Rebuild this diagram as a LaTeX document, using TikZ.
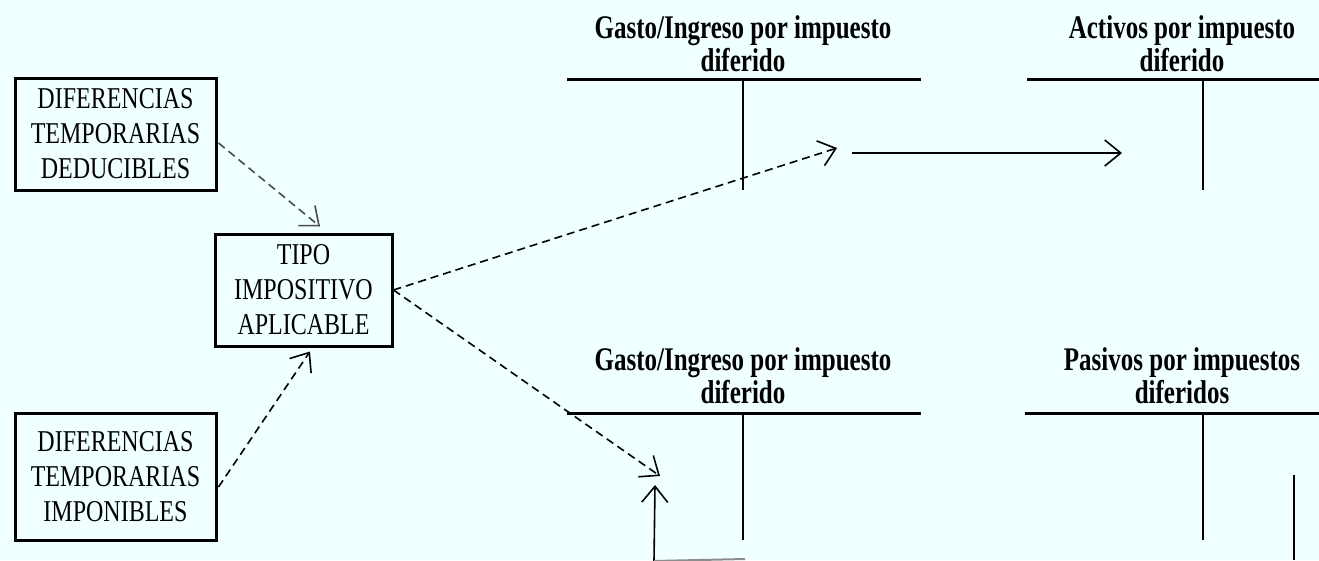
\documentclass[tikz,border=0pt]{standalone}
\usepackage{graphicx}
\usepackage{fontspec}
\setmainfont{Liberation Serif}
\usetikzlibrary{arrows.meta,calc}
\definecolor{bgcol}{RGB}{240,255,255}
\newcommand\vst[1]{\scalebox{1.0}[1.26]{#1}}
\newcommand\vtt[1]{\scalebox{1.0}[1.32]{#1}}
\tikzset{
  box/.style={draw=black,line width=3pt,align=center,inner sep=0pt,
    font=\fontsize{24}{35}\selectfont},
  ttitle/.style={align=center,inner sep=0pt,font=\fontsize{25}{33}\selectfont\bfseries},
  tline/.style={line width=3pt},
  tvert/.style={line width=2pt},
  tip/.style={-{Straight Barb[length=16pt,width=26pt,line width=1.6pt]}},
  dashconn/.style={tip,line width=1.6pt,dash pattern=on 8pt off 5pt},
  solidconn/.style={tip,line width=1.6pt},
}
\begin{document}
\begin{tikzpicture}[x=1pt,y=-1pt]
\fill[bgcol] (0,0) rectangle (1319,560);
\useasboundingbox (0,0) rectangle (1319,560);

% boxes
\node[box,minimum width=201pt,minimum height=112pt] (d1) at (115.5,134)
  {\vst{DIFERENCIAS}\\\vst{TEMPORARIAS}\\\vst{DEDUCIBLES}};
\node[box,minimum width=177pt,minimum height=112pt] (tipo) at (303.5,290)
  {\vst{TIPO}\\\vst{IMPOSITIVO}\\\vst{APLICABLE}};
\node[box,minimum width=201pt,minimum height=127pt] (d2) at (115.5,476.5)
  {\vst{DIFERENCIAS}\\\vst{TEMPORARIAS}\\\vst{IMPONIBLES}};

% T-accounts titles
\node[ttitle] (t1) at (743,44) {\vtt{Gasto/Ingreso por impuesto}\\\vtt{diferido}};
\node[ttitle] (t2) at (1182,44) {\vtt{Activos por impuesto}\\\vtt{diferido}};
\node[ttitle] (t3) at (743,376) {\vtt{Gasto/Ingreso por impuesto}\\\vtt{diferido}};
\node[ttitle] (t4) at (1182,376) {\vtt{Pasivos por impuestos}\\\vtt{diferidos}};

% T-account lines
\draw[tline] (567,79) -- (921,79);
\draw[tvert] (743,79) -- (743,190);
\draw[tline] (1027,79) -- (1319,79);
\draw[tvert] (1203,79) -- (1203,190);
\draw[tline] (567,413) -- (921,413);
\draw[tvert] (743,413) -- (743,540);
\draw[tline] (1025,413) -- (1319,413);
\draw[tvert] (1203,413) -- (1203,540);
\draw[tvert] (1294,475) -- (1294,560);

% connector coordinates
\coordinate (p1) at ($(tipo.north)+(16.5,-6)$);
\coordinate (p2) at ($(tipo.south)+(6.5,4)$);
\coordinate (p3) at (837,148);
\coordinate (p4) at (660,476);
\coordinate (s1) at (852,153);
\coordinate (s2) at (1122,153);
\coordinate (u1) at (654,561);
\coordinate (u2) at (655,485);
\coordinate (h2) at (745,559);

% connectors
\draw[dashconn,draw=black!70] ($(d1.east)+(1,9)$) -- (p1);
\draw[dashconn] ($(d2.east)+(1,10.5)$) -- (p2);
\draw[dashconn] (tipo.east) -- (p3);
\draw[dashconn] (tipo.east) -- (p4);
\draw[solidconn] (s1) -- (s2);
\draw[solidconn] (u1) -- (u2);
\draw[line width=2pt,draw=black!45] (u1) -- (h2);
\end{tikzpicture}
\end{document}
